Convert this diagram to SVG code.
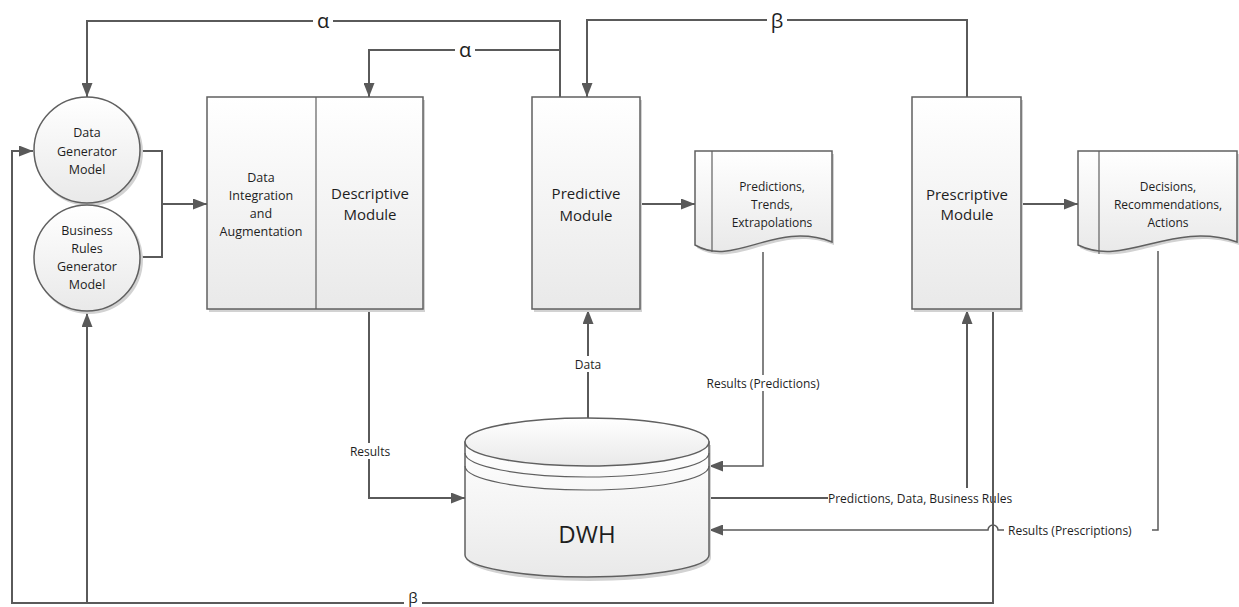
<svg xmlns="http://www.w3.org/2000/svg" width="1239" height="607" viewBox="0 0 1239 607">
<defs>
<linearGradient id="g" x1="0" y1="0" x2="0" y2="1">
<stop offset="0" stop-color="#ffffff"/>
<stop offset="1" stop-color="#e9e9e9"/>
</linearGradient>
<marker id="ah" markerWidth="14" markerHeight="11" refX="14" refY="5.5" orient="auto" markerUnits="userSpaceOnUse">
<path d="M0,0 L14,5.5 L0,11 z" fill="#595959"/>
</marker>
<style>
.shape{fill:url(#g);stroke:#606060;stroke-width:1.5}
.shadow{fill:#d2d2d2;stroke:none}
.line{fill:none;stroke:#606060;stroke-width:1.2}
.conn{fill:none;stroke:#5a5a5a;stroke-width:2}
.thin{stroke-width:1.5}
.arrow{marker-end:url(#ah)}
text{font-family:"Open Sans","Noto Sans","Liberation Sans",sans-serif;fill:#1e1e1e;text-anchor:middle;dominant-baseline:central}
.t12{font-size:12px}
.t13{font-size:12.5px}
.t15{font-size:15px}
.lbl{font-size:12px}
.greek{font-size:20px}
.bg{fill:#ffffff}
</style>
</defs>
<rect width="1239" height="607" fill="#ffffff"/>

<g id="connectors">
<path class="conn arrow" d="M560,97 V21 H87 V97"/>
<path class="conn arrow" d="M560,50 H369 V97"/>
<path class="conn arrow" d="M967,97 V20 H587 V97"/>
<path class="conn" d="M141,151 H162 V257 H141"/>
<path class="conn arrow" d="M162,204 H207"/>
<path class="conn arrow" d="M640,204 H695"/>
<path class="conn arrow" d="M1021,204 H1078"/>
<path class="conn arrow" d="M369,310 V498 H465"/>
<path class="conn arrow" d="M588,418 V310"/>
<path class="conn thin arrow" d="M763,252 V466 H709"/>
<path class="conn arrow" d="M709,498 H967 V310"/>
<path class="conn thin arrow" d="M1158,251 V530 H998 A5,5 0 0 0 988,530 H709"/>
<g id="lbl-alpha1"><rect class="bg" x="313" y="10" width="20" height="22"/><text class="greek" x="323" y="20">α</text></g>
<g id="lbl-alpha2"><rect class="bg" x="455" y="39" width="20" height="22"/><text class="greek" x="465" y="49">α</text></g>
<g id="lbl-beta1"><rect class="bg" x="767" y="9" width="20" height="24"/><text class="greek" x="777" y="20">β</text></g>
<g id="lbl-results"><rect class="bg" x="348" y="443" width="43" height="16"/><text class="lbl" x="370" y="451">Results</text></g>
<g id="lbl-data"><rect class="bg" x="573" y="356" width="30" height="16"/><text class="lbl" x="588" y="364">Data</text></g>
<g id="lbl-respred"><rect class="bg" x="697" y="375" width="132" height="16"/><text class="lbl" x="763" y="383">Results (Predictions)</text></g>
<g id="lbl-pdbr"><rect class="bg" x="828" y="488" width="210" height="19"/><text class="lbl" x="828" y="498" style="text-anchor:start">Predictions, Data, Business Rules</text></g>
<g id="lbl-respres"><rect class="bg" x="1004" y="522" width="148" height="16"/><text class="lbl" x="1008" y="530" style="text-anchor:start">Results (Prescriptions)</text></g>
<path class="conn arrow" d="M993,310 V603 H12 V151 H33"/>
<path class="conn arrow" d="M87,603 V313"/>
<g id="lbl-beta2"><rect class="bg" x="404" y="591" width="18" height="16"/><text x="413" y="597" style="font-size:15px">β</text></g>
</g>

<g id="data-generator">
<circle class="shadow" cx="89" cy="152" r="54"/>
<circle class="shape" cx="87" cy="150" r="53"/>
<text class="t13" x="87" y="132">Data</text>
<text class="t13" x="87" y="151">Generator</text>
<text class="t13" x="87" y="169">Model</text>
</g>

<g id="business-rules-generator">
<circle class="shadow" cx="89" cy="260" r="54"/>
<circle class="shape" cx="87" cy="258" r="53"/>
<text class="t13" x="87" y="230">Business</text>
<text class="t13" x="87" y="248">Rules</text>
<text class="t13" x="87" y="266">Generator</text>
<text class="t13" x="87" y="284">Model</text>
</g>

<g id="integration-descriptive">
<rect class="shadow" x="209" y="100" width="216" height="212"/>
<rect class="shape" x="207" y="97" width="216" height="212"/>
<line class="line" x1="316" y1="97" x2="316" y2="309"/>
<text class="t13" x="261" y="177">Data</text>
<text class="t13" x="261" y="195">Integration</text>
<text class="t13" x="261" y="213">and</text>
<text class="t13" x="261" y="231">Augmentation</text>
<text class="t15" x="370" y="193">Descriptive</text>
<text class="t15" x="370" y="214">Module</text>
</g>

<g id="predictive">
<rect class="shadow" x="534" y="100" width="108" height="212"/>
<rect class="shape" x="532" y="97" width="108" height="212"/>
<text class="t15" x="586" y="193">Predictive</text>
<text class="t15" x="586" y="215">Module</text>
</g>

<g id="predictions-doc">
<path class="shadow" d="M697,154 H834 V245 C777,223 737,271 697,248 Z"/>
<path class="shape" d="M695,151 H832 V242 C775,220 735,268 695,245 Z"/>
<line class="line" x1="712" y1="151" x2="712" y2="252"/>
<text class="t12" x="772" y="186">Predictions,</text>
<text class="t12" x="772" y="204">Trends,</text>
<text class="t12" x="772" y="222">Extrapolations</text>
</g>

<g id="prescriptive">
<rect class="shadow" x="914" y="100" width="109" height="212"/>
<rect class="shape" x="912" y="97" width="109" height="212"/>
<text class="t15" x="967" y="194">Prescriptive</text>
<text class="t15" x="967" y="214">Module</text>
</g>

<g id="decisions-doc">
<path class="shadow" d="M1080,154 H1239 V245 C1174,223 1127,271 1080,248 Z"/>
<path class="shape" d="M1078,151 H1237 V242 C1172,220 1125,268 1078,245 Z"/>
<line class="line" x1="1099" y1="151" x2="1099" y2="254"/>
<text class="t12" x="1168" y="186">Decisions,</text>
<text class="t12" x="1168" y="204">Recommendations,</text>
<text class="t12" x="1168" y="222">Actions</text>
</g>

<g id="dwh">
<path class="shadow" d="M467,445 V558 A122,23 0 0 0 711,558 V445 Z"/>
<path class="shape" d="M465,442 V555 A122,22 0 0 0 709,555 V442 Z"/>
<ellipse class="shape" cx="587" cy="442" rx="122" ry="24"/>
<path class="line" d="M465,453 A122,24 0 0 0 709,453"/>
<path class="line" d="M465,466 A122,24 0 0 0 709,466"/>
<text x="587" y="533" style="font-size:24px">DWH</text>
</g>
</svg>
